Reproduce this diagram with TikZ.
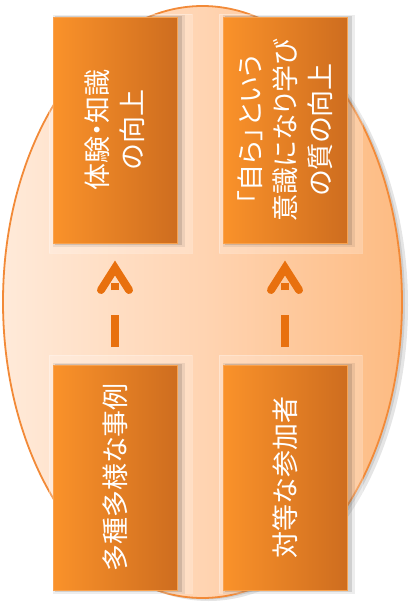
\documentclass[tikz,border=0pt]{standalone}
\usepackage{fontspec}
\newfontfamily\jpfont[RawFeature=+palt]{Noto Sans CJK JP}
\usetikzlibrary{shapes.geometric,calc}
\definecolor{ellL}{HTML}{FFEAD9}
\definecolor{ellM}{HTML}{FFD4B2}
\definecolor{ellR}{HTML}{FDBB82}
\definecolor{ellB}{HTML}{F28A38}
\definecolor{boxL}{HTML}{FA922A}
\definecolor{boxR}{HTML}{CE6D1F}
\definecolor{boxB}{HTML}{F9A24E}
\definecolor{arrC}{HTML}{E8700E}
\pgfdeclarelayer{ellipselayer}
\pgfdeclarelayer{decor}
\pgfsetlayers{ellipselayer,decor,main}
\tikzset{
  card/.style={rectangle, draw=boxB, line width=1pt, left color=boxL, right color=boxR,
    minimum width=124pt, minimum height=226pt, inner sep=0pt, outer sep=0pt},
  cardtext/.style={rotate=90, text=white, font=\jpfont\fontsize{27}{35}\selectfont,
    align=center, inner sep=0pt},
  dashconn/.style={draw=arrC, line width=8pt, line cap=butt,
    dash pattern=on 32pt off 25pt on 7pt off 100pt, dash phase=146pt},
  chev/.style={draw=arrC, line width=8pt, line cap=round, line join=miter},
  glow/.style={fill=white, fill opacity=0.22, draw=white, draw opacity=0.25, line width=0.6pt},
  shade1/.style={fill=black, opacity=0.07},
  shade2/.style={fill=black, opacity=0.12}
}
\begin{document}
\begin{tikzpicture}[x=1pt,y=-1pt]
\useasboundingbox (0,0) rectangle (413,608);
% background ellipse
\begin{pgfonlayer}{ellipselayer}
\fill[black, opacity=0.10] (208.5,305) ellipse [x radius=199.5pt, y radius=296pt];
\fill[black, opacity=0.10] (205.5,303.5) ellipse [x radius=199.5pt, y radius=296pt];
\node[ellipse, draw=ellB, line width=1.8pt, minimum width=399pt, minimum height=592pt,
  inner sep=0pt, left color=ellL, right color=ellR, middle color=ellM] (bg) at (202.5,302) {};
\end{pgfonlayer}
% boxes
\node[card] (tl) at (115,130) {};
\node[card] (tr) at (285,130) {};
\node[card, minimum height=225pt] (bl) at (115,477.5) {};
\node[card, minimum height=225pt] (br) at (285,477.5) {};
% glow and shadows
\begin{pgfonlayer}{decor}
\foreach \b in {tl,tr}{
  \path[glow] ($(\b.north west)+(-4,-3)$) rectangle ($(\b.south east)+(15,10)$);
}
\foreach \b in {bl,br}{
  \path[glow] ($(\b.north west)+(-4,-10)$) rectangle ($(\b.south east)+(15,3)$);
}
\foreach \b in {tl,tr,bl,br}{
  \fill[shade1] ($(\b.north west)+(0,-2)$) rectangle ($(\b.south east)+(8,4)$);
  \fill[shade2] ($(\b.north west)+(2,-1)$) rectangle ($(\b.south east)+(5,2)$);
}
\end{pgfonlayer}
% texts
\node[cardtext] (tlt) at (tl.center) {体験・知識\\の向上};
\node[cardtext] (trt) at (tr.center) {「自ら」という\\意識になり学び\\の質の向上};
\node[cardtext] (blt) at (bl.center) {多種多様な事例};
\node[cardtext] (brt) at (br.center) {対等な参加者};
% connectors
\coordinate (apexL) at ($(tl.south)+(0,17)$);
\coordinate (apexR) at ($(tr.south)+(0,17)$);
\path[dashconn] (bl.north) -- (apexL);
\path[dashconn] (br.north) -- (apexR);
\path[chev] ($(tl.south)+(-14,47)$) -- ($(tl.south)+(0,25)$) -- ($(tl.south)+(14,47)$);
\path[chev] ($(tr.south)+(-14,47)$) -- ($(tr.south)+(0,25)$) -- ($(tr.south)+(14,47)$);
\end{tikzpicture}
\end{document}
